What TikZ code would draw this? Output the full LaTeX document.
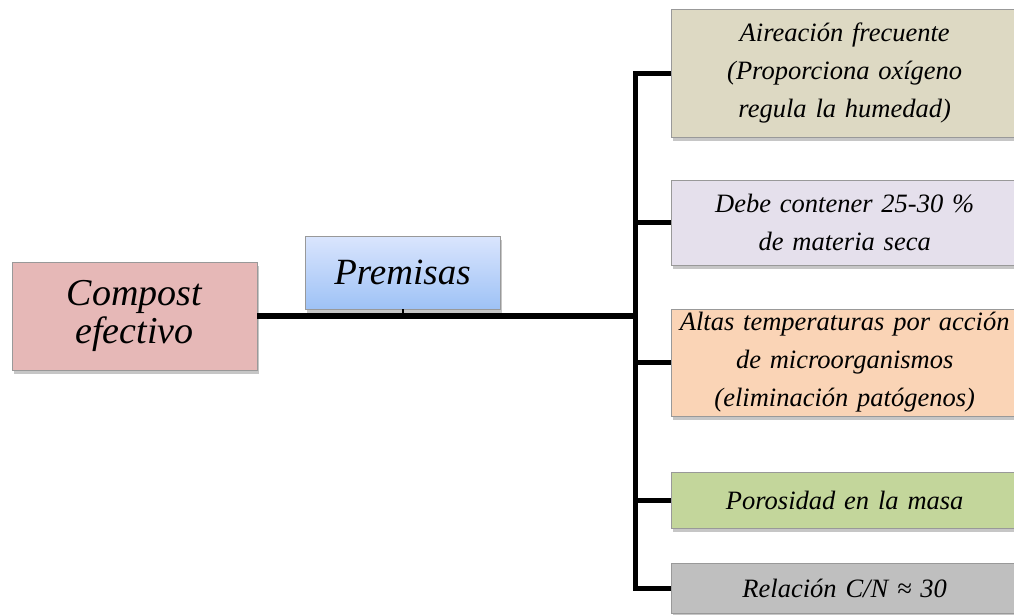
\documentclass[tikz,border=0pt]{standalone}
\usepackage{fontspec}
\setmainfont{Liberation Serif}
\usetikzlibrary{shadows}
\definecolor{rosa}{RGB}{230,184,183}
\definecolor{arena}{RGB}{221,217,195}
\definecolor{lila}{RGB}{229,224,236}
\definecolor{melocoton}{RGB}{250,212,182}
\definecolor{verde}{RGB}{195,214,155}
\definecolor{gris}{RGB}{191,191,191}
\definecolor{azularriba}{RGB}{218,229,253}
\definecolor{azulabajo}{RGB}{158,194,246}
\tikzstyle{card} = [rectangle, inner sep=0pt, align=center, draw=black!40, thin, drop shadow={shadow xshift=1.5pt, shadow yshift=-3.5pt, opacity=0.45}]
\tikzstyle{premise} = [card, anchor=west, text width=340pt, inner xsep=3.5pt, font=\itshape\fontsize{26.5}{38}\selectfont]
\tikzstyle{trunk} = [line width=5pt, line join=miter]

\begin{document}
\begin{tikzpicture}[x=1pt, y=-1pt]
        \useasboundingbox (0,0) rectangle (1014,614);
        \clip (0,0) rectangle (1014,614);
        % main boxes
        \node [card, fill=rosa, minimum width=245pt, minimum height=108pt, font=\itshape\fontsize{38}{38}\selectfont] at (134.5,316) (compost) {Compost\\efectivo};
        \node [card, top color=azularriba, bottom color=azulabajo, minimum width=195pt, minimum height=73pt, font=\itshape\fontsize{37}{38}\selectfont] at (402.5,272.5) (premisas) {Premisas};
        % premises
        \node [premise, fill=arena, minimum height=128pt] at (671,73) (b1) {Aireación frecuente\\(Proporciona oxígeno\\regula la humedad)};
        \node [premise, fill=lila, minimum height=85pt] at (671,222.5) (b2) {Debe contener 25-30 \%\\de materia seca};
        \node [premise, fill=melocoton, minimum height=107pt] at (671,362.5) (b3) {Altas temperaturas por acción\\de microorganismos\\(eliminación patógenos)};
        \node [premise, fill=verde, minimum height=56pt] at (671,500) (b4) {Porosidad en la masa};
        \node [premise, fill=gris, minimum height=50pt] at (671,588) (b5) {Relación C/N ≈ 30};
        % connectors
        \coordinate (hub) at (635,316);
        \draw [trunk, line width=5.5pt] (compost.east) -- (hub);
        \draw [line width=2pt] (premisas.south) -- (premisas.south |- hub);
        \foreach \b in {b1,b2,b3,b4,b5}
                \draw [trunk] (hub) |- (\b.west);
        \end{tikzpicture}
\end{document}
